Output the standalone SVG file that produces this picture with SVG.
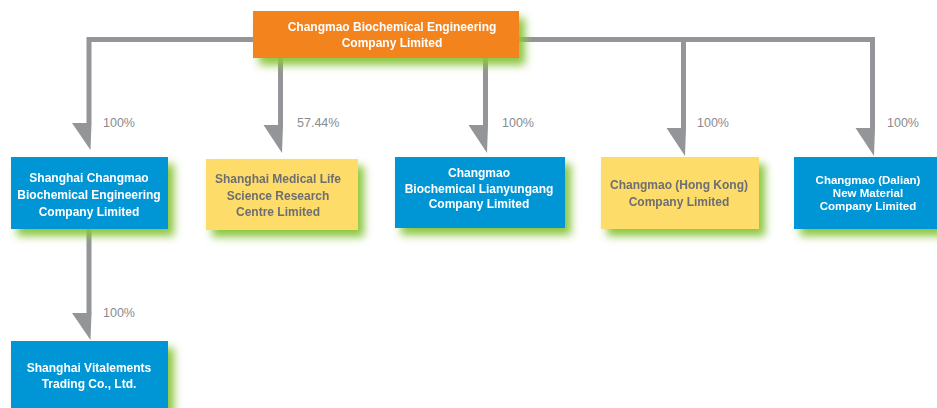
<svg xmlns="http://www.w3.org/2000/svg" width="937" height="408" viewBox="0 0 937 408">
  <defs>
    <filter id="glow" x="-20%" y="-30%" width="150%" height="180%">
      <feGaussianBlur in="SourceAlpha" stdDeviation="4" result="b"/>
      <feOffset in="b" dx="6" dy="7" result="o"/>
      <feFlood flood-color="#8cc63f"/>
      <feComposite in2="o" operator="in" result="s"/>
      <feMerge><feMergeNode in="s"/><feMergeNode in="SourceGraphic"/></feMerge>
    </filter>
    <style>
      .blue { fill: #0096d6; }
      .yellow { fill: #fddc6b; }
      .orange { fill: #f3831f; }
      .t { font-family: "Liberation Sans", Arial, sans-serif; font-size: 12px; font-weight: bold; text-anchor: middle; }
      .tight { font-size: 11.5px; }
      .w { fill: #ffffff; }
      .g { fill: #6d6e71; }
      .pct { font-family: "Liberation Sans", Arial, sans-serif; font-size: 12.5px; fill: #8a8b8e; }
      .line { fill: none; stroke: #939598; stroke-width: 5; stroke-linejoin: miter; }
      .head { fill: #939598; }
    </style>
  </defs>

  <g id="connectors">
    <path class="line" d="M89,124 V39.5 H872.5 V129"/>
    <path class="line" d="M280.5,58 V126"/>
    <path class="line" d="M485.5,58 V126"/>
    <path class="line" d="M683.5,39.5 V129"/>
    <path class="line" d="M89,229 V314"/>
    <polygon class="head" points="72,123 91.5,123 90.5,150"/>
    <polygon class="head" points="263.5,125 283,125 282,153"/>
    <polygon class="head" points="468.5,125 488,125 487,153"/>
    <polygon class="head" points="666.5,128 686,128 685,156"/>
    <polygon class="head" points="855.5,128 875,128 874,156"/>
    <polygon class="head" points="72,313 91.5,313 90.5,340"/>
    <text class="pct" x="103" y="127">100%</text>
    <text class="pct" x="297" y="127">57.44%</text>
    <text class="pct" x="502" y="127">100%</text>
    <text class="pct" x="697" y="127">100%</text>
    <text class="pct" x="887" y="127">100%</text>
    <text class="pct" x="103" y="317">100%</text>
  </g>

  <g id="parent" filter="url(#glow)">
    <rect class="orange" x="253" y="11" width="266" height="47"/>
    <text class="t w" x="392" y="31">Changmao Biochemical Engineering</text>
    <text class="t w" x="392" y="47">Company Limited</text>
  </g>

  <g id="shanghai-changmao" filter="url(#glow)">
    <rect class="blue" x="11" y="157" width="157" height="72"/>
    <text class="t w" x="89" y="182">Shanghai Changmao</text>
    <text class="t w" x="89" y="199">Biochemical Engineering</text>
    <text class="t w" x="89" y="216">Company Limited</text>
  </g>

  <g id="medical-life-science" filter="url(#glow)">
    <rect class="yellow" x="206" y="159" width="152" height="71"/>
    <text class="t g" x="278" y="183">Shanghai Medical Life</text>
    <text class="t g" x="278" y="200">Science Research</text>
    <text class="t g" x="278" y="216">Centre Limited</text>
  </g>

  <g id="lianyungang" filter="url(#glow)">
    <rect class="blue" x="395" y="157" width="170" height="71"/>
    <text class="t w" x="479" y="177">Changmao</text>
    <text class="t w" x="479" y="192.5">Biochemical Lianyungang</text>
    <text class="t w" x="479" y="208">Company Limited</text>
  </g>

  <g id="hong-kong" filter="url(#glow)">
    <rect class="yellow" x="601" y="157" width="158" height="72"/>
    <text class="t g" x="679" y="189">Changmao (Hong Kong)</text>
    <text class="t g" x="679" y="206">Company Limited</text>
  </g>

  <g id="dalian" filter="url(#glow)">
    <rect class="blue" x="794" y="157" width="148" height="72"/>
    <text class="t w tight" x="868" y="184">Changmao (Dalian)</text>
    <text class="t w tight" x="868" y="197">New Material</text>
    <text class="t w tight" x="868" y="210">Company Limited</text>
  </g>

  <g id="vitalements" filter="url(#glow)">
    <rect class="blue" x="11" y="341" width="157" height="72"/>
    <text class="t w" x="89" y="372">Shanghai Vitalements</text>
    <text class="t w" x="89" y="388">Trading Co., Ltd.</text>
  </g>
</svg>
